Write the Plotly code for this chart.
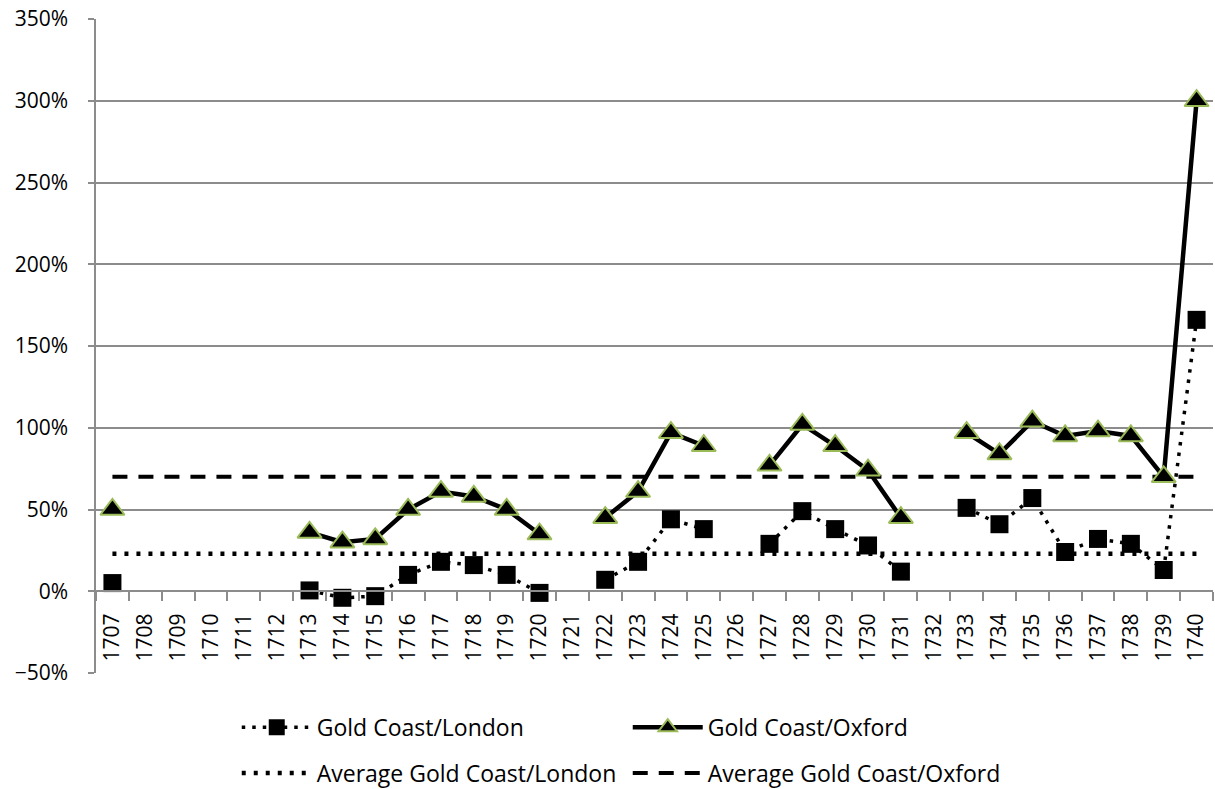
import plotly.graph_objects as go

years = [str(y) for y in range(1707, 1741)]

# Gold Coast/London (fraction), None = no data
london = [0.05, None, None, None, None, None, 0.005, -0.04, -0.03, 0.10, 0.18, 0.16, 0.10, -0.01,
          None, 0.07, 0.18, 0.44, 0.38, None, 0.29, 0.49, 0.38, 0.28, 0.12,
          None, 0.51, 0.41, 0.57, 0.24, 0.32, 0.29, 0.13, 1.66]

# Gold Coast/Oxford
oxford = [0.50, None, None, None, None, None, 0.36, 0.30, 0.32, 0.50, 0.61, 0.58, 0.50, 0.35,
          None, 0.45, 0.61, 0.97, 0.89, None, 0.77, 1.02, 0.89, 0.74, 0.45,
          None, 0.97, 0.84, 1.04, 0.95, 0.98, 0.95, 0.70, 3.00]

avg_london = 0.23
avg_oxford = 0.70

y_ticks = [-0.5, 0, 0.5, 1.0, 1.5, 2.0, 2.5, 3.0, 3.5]

GRID = "#8C8C8C"
FONT = "Open Sans"

fig = go.Figure()

fig.add_trace(go.Scatter(
    x=[years[0], years[-1]], y=[avg_london, avg_london], mode="lines",
    name="Average Gold Coast/London", legend="legend2",
    line=dict(color="black", width=4.5, dash="4px,8px"),
))
fig.add_trace(go.Scatter(
    x=[years[0], years[-1]], y=[avg_oxford, avg_oxford], mode="lines",
    name="Average Gold Coast/Oxford", legend="legend2",
    line=dict(color="black", width=4, dash="15px,11px"),
))
fig.add_trace(go.Scatter(
    x=years, y=london, mode="lines+markers", name="Gold Coast/London",
    legend="legend", connectgaps=False,
    line=dict(color="black", width=3.5, dash="3.5px,7px"),
    marker=dict(symbol="square", size=18, color="black"),
))
fig.add_trace(go.Scatter(
    x=years, y=oxford, mode="lines+markers", name="Gold Coast/Oxford",
    legend="legend", connectgaps=False,
    line=dict(color="black", width=4.5),
    marker=dict(symbol="triangle-up", size=21, color="black",
                line=dict(color="#9BBB59", width=2)),
))

legend_common = dict(
    orientation="h", xanchor="left", yanchor="middle",
    font=dict(family=FONT, size=23, color="black"),
    itemwidth=70, entrywidth=306, bgcolor="rgba(0,0,0,0)",
    traceorder="normal",
)

fig.update_layout(
    width=1215, height=789,
    margin=dict(l=96, r=2, t=19, b=116, autoexpand=False),
    paper_bgcolor="white", plot_bgcolor="white",
    font=dict(family=FONT, size=21, color="black"),
    showlegend=True,
    legend=dict(x=0.126, y=-0.083, **legend_common),
    legend2=dict(x=0.126, y=-0.153, **legend_common),
    xaxis=dict(
        type="category", categoryorder="array", categoryarray=years,
        range=[-0.5, len(years) - 0.5],
        anchor="free", position=0.125,
        showgrid=False, showline=True, linecolor=GRID, linewidth=1.5,
        ticks="outside", tickson="boundaries", ticklen=9, tickcolor=GRID, tickwidth=1.5,
        tickangle=-90, ticklabelstandoff=13,
        tickfont=dict(family=FONT, size=21, color="black"),
        zeroline=False,
    ),
    yaxis=dict(
        range=[-0.5, 3.5], tickvals=y_ticks, tickformat=".0%",
        showgrid=True, gridcolor=GRID, gridwidth=1.5,
        showline=True, linecolor=GRID, linewidth=1.5,
        ticks="outside", ticklen=6, tickcolor=GRID, tickwidth=1.5,
        ticklabelstandoff=16, zeroline=False,
        tickfont=dict(family=FONT, size=21, color="black"),
    ),
)

fig.write_html("out.html")
